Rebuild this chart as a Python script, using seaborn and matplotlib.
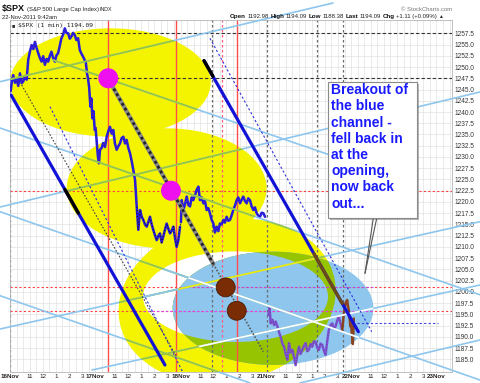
import numpy as np
import pandas as pd
import matplotlib
matplotlib.use("Agg")
import matplotlib.pyplot as plt
import matplotlib.patches as mpatches
import matplotlib.patheffects as pe
import seaborn as sns

# $SPX 1 min. x = horas de mercado desde 16Nov 9:30
h16 = [0.05, 0.15, 0.25, 0.38, 0.51, 0.63, 0.76, 0.89, 1.01, 1.14, 1.27, 1.39, 1.52, 1.65, 1.78,
       1.90, 2.03, 2.15, 2.28, 2.41, 2.53, 2.66, 2.79, 2.91, 3.04, 3.16, 3.29, 3.42, 3.54, 3.67,
       3.80, 3.92, 4.05, 4.18, 4.30, 4.43, 4.56, 4.68, 4.81, 4.94, 5.06, 5.19, 5.32, 5.44, 5.57,
       5.70, 5.77, 5.87, 5.95, 6.03, 6.13, 6.20, 6.28, 6.36, 6.46]
p16 = [1244.6, 1247.0, 1248.2, 1246.5, 1247.3, 1245.8, 1248.6, 1246.4, 1246.8, 1248.0, 1247.2,
       1251.6, 1253.5, 1254.9, 1254.0, 1255.6, 1254.2, 1253.1, 1252.0, 1251.2, 1252.4, 1250.5,
       1251.8, 1251.2, 1252.5, 1253.4, 1252.0, 1251.2, 1252.6, 1253.1, 1254.8, 1256.4, 1257.2,
       1258.6, 1257.6, 1257.5, 1256.3, 1256.8, 1257.6, 1257.1, 1256.0, 1256.4, 1253.8, 1253.0,
       1252.3, 1251.5, 1251.2, 1248.6, 1247.4, 1245.6, 1241.2, 1243.0, 1238.6, 1240.2, 1236.0]
h17 = [6.52, 6.60, 6.70, 6.78, 6.86, 6.98, 7.10, 7.24, 7.37, 7.50, 7.62, 7.75, 7.87, 8.00, 8.13,
       8.26, 8.38, 8.51, 8.64, 8.77, 8.89, 9.02, 9.15, 9.28, 9.40, 9.53, 9.66, 9.78, 9.91, 10.04,
       10.16, 10.29, 10.42, 10.54, 10.67, 10.80, 10.92, 11.05, 11.18, 11.30, 11.43, 11.56, 11.68,
       11.81, 11.94, 12.07, 12.20, 12.32, 12.45, 12.58, 12.70, 12.83, 12.96]
p17 = [1236.5, 1233.8, 1230.1, 1228.6, 1231.6, 1232.0, 1233.1, 1232.2, 1234.5, 1235.8, 1236.7,
       1235.2, 1236.0, 1233.0, 1231.6, 1232.4, 1233.0, 1234.2, 1234.5, 1233.0, 1233.8, 1232.0,
       1230.8, 1229.0, 1227.1, 1224.9, 1218.9, 1213.8, 1218.2, 1216.7, 1216.0, 1215.0, 1214.5,
       1215.5, 1216.7, 1215.0, 1213.8, 1212.6, 1211.5, 1212.4, 1213.0, 1211.0, 1212.3, 1213.8,
       1215.2, 1214.0, 1213.0, 1213.6, 1214.5, 1212.0, 1210.0, 1211.5, 1214.5]
h18 = [13.03, 13.09, 13.21, 13.34, 13.47, 13.60, 13.72, 13.85, 13.97, 14.10, 14.23, 14.36, 14.48,
       14.61, 14.74, 14.86, 14.99, 15.12, 15.24, 15.37, 15.50, 15.62, 15.75, 15.88, 16.00, 16.13,
       16.26, 16.38, 16.51, 16.64, 16.77, 16.89, 17.02, 17.15, 17.28, 17.40, 17.53, 17.66, 17.78,
       17.91, 18.04, 18.16, 18.29, 18.42, 18.55, 18.67, 18.80, 18.93, 19.06, 19.18, 19.31, 19.44]
p18 = [1215.5, 1220.4, 1218.2, 1219.5, 1221.2, 1219.3, 1219.0, 1221.0, 1220.4, 1221.5, 1222.7,
       1223.4, 1220.4, 1221.0, 1219.7, 1220.2, 1218.2, 1218.6, 1217.5, 1216.0, 1215.2, 1213.2,
       1214.5, 1213.5, 1215.2, 1215.0, 1216.0, 1215.4, 1216.7, 1215.8, 1216.0, 1217.0, 1218.2,
       1219.2, 1220.4, 1221.0, 1219.7, 1220.5, 1221.2, 1220.2, 1219.7, 1220.8, 1220.4, 1219.0,
       1218.2, 1218.8, 1217.5, 1216.9, 1216.7, 1217.6, 1217.5, 1216.7]
h21 = [19.70, 19.79, 19.87, 20.00, 20.13, 20.25, 20.38, 20.51, 20.63, 20.76, 20.89, 21.01, 21.14,
       21.27, 21.39, 21.52, 21.65, 21.77, 21.90, 22.03, 22.15, 22.28, 22.41, 22.53, 22.66, 22.78,
       22.91, 23.04, 23.16, 23.29, 23.42, 23.54, 23.67, 23.80, 23.92, 24.05, 24.18, 24.30, 24.43,
       24.56, 24.68, 24.81, 24.94, 25.06, 25.19, 25.32]
p21 = [1194.9, 1196.5, 1193.0, 1193.8, 1192.6, 1193.4, 1192.3, 1191.0, 1190.0, 1188.5, 1187.8,
       1186.2, 1184.9, 1188.6, 1186.5, 1187.1, 1185.5, 1183.7, 1186.0, 1187.8, 1186.2, 1187.1,
       1188.0, 1188.6, 1186.8, 1187.1, 1188.4, 1187.8, 1189.0, 1188.9, 1187.6, 1187.1, 1188.5,
       1188.2, 1187.0, 1186.0, 1189.0, 1191.5, 1192.6, 1193.0, 1191.8, 1192.3, 1193.6, 1194.5,
       1193.0, 1191.5]
h22 = [25.32, 25.44, 25.57, 25.70, 25.76, 25.82, 25.89, 25.95, 26.00, 26.05, 26.10, 26.13, 26.17, 26.20]
p22 = [1191.5, 1195.0, 1197.5, 1198.2, 1196.8, 1196.0, 1194.0, 1192.3, 1192.98, 1190.8, 1189.6,
       1188.4, 1191.0, 1194.09]

# eje x
sesion = 6.5
dias = ['16Nov', '17Nov', '18Nov', '21Nov', '22Nov', '23Nov']
horas = ['11', '12', '1', '2', '3']
desfase_horas = [1.5, 2.5, 3.5, 4.5, 5.5]
ticks_y = np.arange(1185.0, 1257.6, 2.5)

# anotaciones (centro h, centro precio, ancho h, alto precio, giro)
elipses_amarillas = [(7.65, 1246.56, 15.30, 24.1, 0), (11.94, 1223.03, 15.24, 26.7, 0),
                     (16.55, 1198.0, 16.39, 36.7, -4)]
elipse_blanca = (17.19, 1198.93, 14.10, 20.15)
elipse_azul = (20.05, 1196.35, 15.30, 25.2)
circulos_magenta = [(7.49, 1247.5), (12.27, 1222.5)]
circulos_marron = [(16.44, 1201.0), (17.28, 1195.8)]

# lineas finas celestes: (h0, h1), (p0, p1), color dentro del ovalo azul
lineas_finas = [
    ((-0.76, 24.62), (1246.74, 1264.24), None),
    ((-0.76, 35.82), (1218.87, 1244.45), None),
    ((-0.76, 35.82), (1191.74, 1215.61), '#ecec10'),
    ((22.10, 35.82), (1179.74, 1189.30), None),
    ((6.25, 35.82), (1182.63, 1201.53), 'white'),
    ((3.28, 24.39), (1251.56, 1230.44), None),
    ((-0.76, 35.82), (1236.44, 1199.35), None),
    ((-0.76, 35.82), (1217.83, 1180.40), 'white'),
    ((-0.76, 18.29), (1199.15, 1179.74), None),
]
canal_izq = ((0.08, 11.81), (1243.78, 1183.74))
canal_der = ((14.79, 26.55), (1251.41, 1191.14))
punteada_negra = ((0.89, 12.70), (1246.0, 1185.6))
punteada_azul_izq = ((3.05, 13.16), (1241.18, 1182.2))
punteada_azul_der = ((15.24, 27.57), (1256.39, 1191.14))
diagonal = ([7.49, 15.50, 19.31], [1247.34, 1206.2, 1186.7])

v_rojas = [7.49, 12.63, 17.28]
v_rosas = [16.18]
v_grises = [0.0, 15.37, 19.56, 23.38, 25.36]
h_negras = [1257.5, 1247.5]
h_rojas = [1222.5, 1201.0, 1195.8]

texto_caja = "Breakout of\nthe blue\nchannel -\nfell back in\nat the\nopening,\nnow back\nout..."

AMARILLO = '#f4f400'
CELESTE = '#8ec6ee'
VERDE = '#97c400'
VERDE_LINEA = '#98c83a'
AZUL = '#1212d6'

sns.set_theme(style='white')
plt.rcParams['font.family'] = ['Liberation Sans', 'DejaVu Sans']

fig = plt.figure(figsize=(4.8, 3.83), dpi=100)
ax = fig.add_axes([10 / 480, 11.3 / 383, 442 / 480, 351.7 / 383])
ax.set_xlim(0, 33.69)
ax.set_ylim(1182.25, 1260.46)

# ejes y rejilla
pos, etiquetas = [], []
for i, d in enumerate(dias):
    pos.append(i * sesion)
    etiquetas.append(d)
    if i < len(dias) - 1:
        for hh, off in zip(horas, desfase_horas):
            pos.append(i * sesion + off)
            etiquetas.append(hh)
ax.set_xticks(pos, etiquetas)
ax.set_xticks(np.arange(0, 33.7, 0.5), minor=True)
ax.set_yticks(ticks_y, [f"{v:.1f}" for v in ticks_y])
ax.yaxis.tick_right()
ax.set_axisbelow(True)
ax.grid(which='both', color='#e2e2e2', lw=0.5)
ax.tick_params(which='both', length=0)
ax.tick_params(axis='y', labelsize=4.7, pad=2, labelcolor='#333333')
ax.tick_params(axis='x', labelsize=4.5, pad=1.5, labelcolor='#222222')
for lbl in ax.get_xticklabels():
    if 'Nov' in lbl.get_text():
        lbl.set_fontweight('bold')
for s in ax.spines.values():
    s.set_color('#b5b5b5')
    s.set_linewidth(0.6)

# ovalos
amarillas = []
for cx, cy, w, hg, giro in elipses_amarillas:
    e = mpatches.Ellipse((cx, cy), w, hg, angle=giro, fc=AMARILLO, ec='none', zorder=1)
    ax.add_patch(e)
    amarillas.append(e)
blanca = mpatches.Ellipse(elipse_blanca[:2], *elipse_blanca[2:], fc='white', ec='none', zorder=1.1)
ax.add_patch(blanca)
azul = mpatches.Ellipse(elipse_azul[:2], *elipse_azul[2:], fc=CELESTE, ec='none', zorder=1.2)
ax.add_patch(azul)
verde = mpatches.Ellipse(elipse_azul[:2], *elipse_azul[2:], fc=VERDE, ec='none', zorder=1.3)
ax.add_patch(verde)
verde.set_clip_path(amarillas[2])
interior = mpatches.Ellipse(elipse_blanca[:2], *elipse_blanca[2:], fc=CELESTE, ec='none', zorder=1.4)
ax.add_patch(interior)
interior.set_clip_path(azul)

# lineas horizontales y verticales
for v in v_rojas:
    ax.axvline(v, color='#ff4d4d', lw=1.0, zorder=2)
for v in v_rosas:
    ax.axvline(v, color='#ff5a7a', lw=0.9, ls=(0, (2, 2)), zorder=2)
for v in v_grises:
    ax.axvline(v, color='#6a6a6a', lw=0.9, ls=(0, (2, 2)), zorder=2)
for y in h_negras:
    ax.axhline(y, color='#333333', lw=0.8, ls=(0, (3, 2)), zorder=2)
for y in h_rojas:
    ax.axhline(y, color='#ff4040', lw=0.8, ls=(0, (2, 2)), zorder=2)
ax.plot([13.26, 27.69], [1201.0, 1201.0], color='#b84ee8', lw=0.8, ls=(0, (2, 2)), zorder=2.1)
ax.plot([10.16, 27.69], [1195.8, 1195.8], color='#e040f0', lw=0.8, ls=(0, (2, 2)), zorder=2.1)
ax.plot([26.43, 32.65], [1193.0, 1193.0], color='#4040e0', lw=0.8, ls=(0, (2, 2)), zorder=2.1)

# precio
df = pd.DataFrame({
    'h': h16 + h17 + h18 + h21 + h22,
    'precio': p16 + p17 + p18 + p21 + p22,
    'tramo': ['16'] * len(h16) + ['17'] * len(h17) + ['18'] * len(h18)
             + ['21'] * len(h21) + ['22'] * len(h22),
})
paleta = {'16': '#1c1ce8', '17': '#1c1ce8', '18': '#1c1ce8', '21': '#7a52d8', '22': '#8a4420'}
sns.lineplot(data=df, x='h', y='precio', hue='tramo', palette=paleta, estimator=None,
             sort=False, legend=False, lw=1.8, ax=ax, zorder=3)
ax.plot(h16 + h17 + h18, p16 + p17 + p18, color='#c8203c', lw=0.7, ls=(0, (0.5, 2.5)), zorder=3.1)
ax.plot(h17[26:] + h18[:1], p17[26:] + p18[:1], color='#111111', lw=0.8, ls=(0, (0.8, 2)), zorder=3.2)
ax.plot(h21, p21, color='#7a2e10', lw=0.6, ls=(0, (0.6, 3)), zorder=3.1)
ax.set_xlabel('')
ax.set_ylabel('')

# lineas finas (verdes sobre amarillo, otro color dentro del ovalo azul)
for (hx, py, col_azul) in lineas_finas:
    ln, = ax.plot(hx, py, color=CELESTE, lw=1.2, zorder=4)
    ln.set_clip_on(False)
    for e in amarillas:
        lg, = ax.plot(hx, py, color=VERDE_LINEA, lw=1.2, zorder=4.1)
        lg.set_clip_path(e)
    lb, = ax.plot(hx, py, color=CELESTE, lw=1.2, zorder=4.2)
    lb.set_clip_path(blanca)
    if col_azul:
        la, = ax.plot(hx, py, color=col_azul, lw=1.2, zorder=4.3)
        la.set_clip_path(azul)

# canales
ax.plot(*canal_izq, color=AZUL, lw=2.3, zorder=5)
ax.plot([4.19, 5.21], [1222.74, 1217.52], color='black', lw=2.4, zorder=5.1)
ax.plot(*canal_der, color=AZUL, lw=2.3, zorder=5)
ax.plot([14.79, 15.47], [1251.41, 1247.93], color='black', lw=2.4, zorder=5.1)
ax.plot([23.17, 25.32], [1208.46, 1197.44], color='#6b4a18', lw=2.3, zorder=5.1)
ax.plot(*punteada_negra, color='#444444', lw=0.8, ls=(0, (1.5, 1.5)), zorder=5)
ax.plot(*punteada_azul_izq, color='#3030e0', lw=0.8, ls=(0, (2, 2)), zorder=5)
ax.plot(*punteada_azul_der, color='#3030e0', lw=0.8, ls=(0, (2, 2)), zorder=5)
ax.plot(diagonal[0][:2], diagonal[1][:2], color='#8a8a8a', lw=3.0, zorder=5)
ax.plot(diagonal[0][:2], diagonal[1][:2], color='#222222', lw=2.0, ls=(0, (1, 1)), zorder=5.1)
ax.plot(diagonal[0][1:], diagonal[1][1:], color='#5a5a5a', lw=1.2, ls=(0, (1, 1)), zorder=5.1)

# circulos
for cx, cy in circulos_magenta:
    ax.add_patch(mpatches.Ellipse((cx, cy), 1.52, 4.45, fc='#ee10ee', ec='none', zorder=6))
for cx, cy in circulos_marron:
    ax.add_patch(mpatches.Ellipse((cx, cy), 1.45, 4.2, fc='#7a2d05', ec='#4a1a00', lw=0.6, zorder=6))

# caja de texto
caja = mpatches.Rectangle((24.26, 1216.36), 6.74, 30.38, fc='white', ec='#8a8a8a', lw=0.8, zorder=8)
ax.add_patch(caja)
caja.set_path_effects([pe.SimplePatchShadow(offset=(1.5, -1.5), alpha=0.4), pe.Normal()])
ax.text(24.47, 1246.4, texto_caja, color='#1a1aff', fontsize=10, fontweight='bold',
        va='top', ha='left', linespacing=1.2, zorder=9)
ax.plot([27.69, 27.06], [1216.36, 1204.13], color='#555555', lw=0.8, zorder=7)
ax.plot([27.95, 27.06], [1216.36, 1204.13], color='#555555', lw=0.8, zorder=7)

# leyenda interna
ax.text(0.003, 0.985, '\u25A0', transform=ax.transAxes, fontsize=4, color='#333333', va='center')
ax.text(0.018, 0.985, '\\$SPX (1 min) 1194.09', transform=ax.transAxes, fontsize=4.5,
        family='DejaVu Sans Mono', color='#222222', va='center', zorder=9)

# cabecera
rend = fig.canvas.get_renderer()


def en_linea(x, y, partes):
    for s, peso, tam, col in partes:
        t = fig.text(x, y, s, fontsize=tam, fontweight=peso, color=col, va='baseline', ha='left')
        x += t.get_window_extent(rend).width / fig.bbox.width + 1.5 / 480


en_linea(2 / 480, 1 - 11 / 383, [('\\$SPX', 'bold', 6.5, '#111111'),
                                 ('(S&P 500 Large Cap Index)', 'normal', 4.2, '#222222'),
                                 ('INDX', 'normal', 3.8, '#222222')])
fig.text(2 / 480, 1 - 19 / 383, '22-Nov-2011 9:42am', fontsize=4.2, color='#222222', va='baseline')
fig.text(452 / 480, 1 - 11 / 383, '\u00a9 StockCharts.com', fontsize=4.2, color='#777777',
         va='baseline', ha='right')
en_linea(230 / 480, 1 - 18 / 383, [('Open', 'bold', 4.5, '#111111'), ('1192.98', 'normal', 4.3, '#222222'),
                                   ('High', 'bold', 4.5, '#111111'), ('1194.09', 'normal', 4.3, '#222222'),
                                   ('Low', 'bold', 4.5, '#111111'), ('1188.38', 'normal', 4.3, '#222222'),
                                   ('Last', 'bold', 4.5, '#111111'), ('1194.09', 'normal', 4.3, '#222222'),
                                   ('Chg', 'bold', 4.5, '#111111'), ('+1.11 (+0.09%)', 'normal', 4.3, '#222222'),
                                   ('\u25B2', 'normal', 3.5, '#222222')])

fig.savefig('out.png', dpi=100)
